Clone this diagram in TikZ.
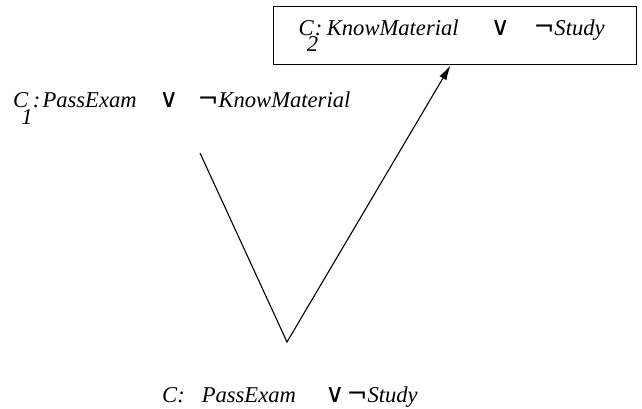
\documentclass[tikz,border=0pt]{standalone}
\usepackage{fontspec}
\setmainfont{Liberation Serif}
\newfontfamily\symfont{DejaVu Sans}
\usetikzlibrary{positioning,arrows.meta}
\newcommand{\orsym}{{\upshape\symfont\fontsize{26}{26}\selectfont ∨}}
\newcommand{\notsym}{{\upshape\symfont\fontsize{25}{25}\selectfont ¬}}
\newcommand{\clname}[1]{C\rlap{\raisebox{-0.72em}{\kern-0.3em #1}}}
\tikzset{
  clause/.style={anchor=base west,inner sep=0pt},
  clausebox/.style={draw,line width=1.2pt,anchor=north west,inner xsep=25pt,
    inner ysep=0pt,minimum height=58pt},
  link/.style={line width=1.1pt}
}
\begin{document}
\begin{tikzpicture}[x=1pt,y=-1pt,font=\fontsize{22.6}{26}\selectfont\itshape]
\useasboundingbox (0,0) rectangle (642,409);
\node[clause] (c1) at (13,108) {\clname{1}\hspace{0.2em}:\hspace{0.1em}PassExam\hspace{1.0em}\orsym\hspace{0.85em}\notsym KnowMaterial};
\node[clausebox] (c2) at (273,6) {\makebox[313pt][l]{\clname{2}\hspace{0.05em}:\hspace{0.2em}KnowMaterial\hspace{1.42em}\orsym\hspace{1.05em}\notsym Study}};
\node[clause] (res) at (162,402) {C:\hspace{0.5em} PassExam\hspace{1.3em}\orsym\hspace{0.1em}\notsym Study};
\coordinate (top) at (200,153);
\coordinate (v) at (287,342);
\draw[link,-{Latex[length=15pt,width=8pt]}] (top) -- (v) -- ([xshift=-4.5pt]c2.south);
\end{tikzpicture}
\end{document}
